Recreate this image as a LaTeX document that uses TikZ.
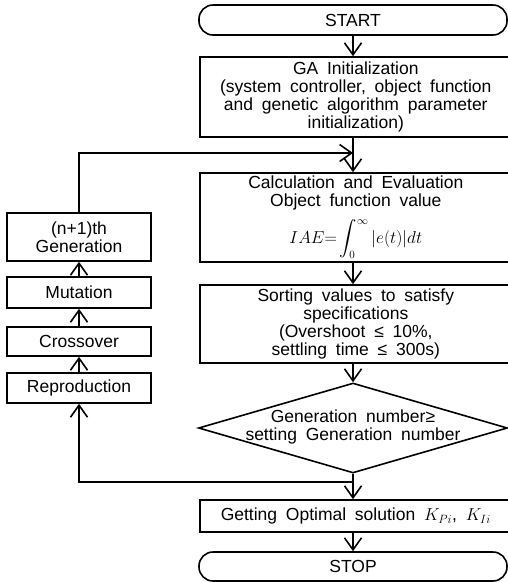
\documentclass[tikz,border=0pt]{standalone}
\usepackage{exscale}
\usepackage{fontspec}
\setmainfont{Liberation Sans}[WordSpace=1.8]
\usetikzlibrary{arrows.meta,positioning,calc,shapes.geometric}
\tikzset{
  flow box/.style={
    draw,
    line width=1.6pt,
    minimum width=312pt,
    inner sep=0pt,
    align=center,
    anchor=west,
  },
  term box/.style={
    draw,
    line width=1.6pt,
    rounded corners=14pt,
    minimum width=308pt,
    inner sep=0pt,
  },
  side box/.style={
    draw,
    line width=1.6pt,
    minimum width=144pt,
    inner sep=0pt,
    align=center,
  },
  flow arrow/.style={
    -{Straight Barb[length=12pt,width=17pt]},
    line width=1.6pt,
  },
}

\begin{document}
\begin{tikzpicture}[x=1pt,y=-1pt,font=\fontsize{17.5}{18}\selectfont]
  \useasboundingbox (0,0) rectangle (508,582);

  \node[term box, minimum height=30pt] (start) at (353,20) {START};
  \node[flow box, minimum height=80pt] (init) at (199,97)
    {GA Initialization\\(system controller, object function\\and genetic algorithm parameter\\initialization)};
  \node[flow box, minimum height=89pt] (calc) at (199,217.5)
    {Calculation and Evaluation\\Object function value\\[8pt]{\fontsize{16}{18}\selectfont$\displaystyle IAE{=}\int_0^{\infty}|e(t)|dt$}};
  \node[flow box, minimum height=78pt] (sort) at (199,324)
    {Sorting values to satisfy\\specifications\\(Overshoot ≤ 10\%,\\settling time ≤ 300s)};
  \node[draw, diamond, line width=1.6pt, minimum width=309pt, minimum height=90pt, inner sep=0pt] (check) at (353,428) {};
  \node[align=center] (checktext) at (353,427) {Generation number≥\\setting Generation number};
  \node[flow box, minimum height=32pt] (optimal) at (199,516)
    {Getting Optimal solution $K_{Pi}$,\ $K_{Ii}$};
  \node[term box, minimum height=29pt] (stop) at (353,566.5) {STOP};

  \node[side box, minimum height=48pt] (nextgen) at (79,237) {(n+1)th\\Generation};
  \node[side box, minimum height=31pt] (mutation) at (79,292.5) {Mutation};
  \node[side box, minimum height=29pt] (crossover) at (79,341.5) {Crossover};
  \node[side box, minimum height=30pt] (reproduction) at (79,388) {Reproduction};

  \coordinate (joint) at (353,153);
  \coordinate (back) at (353,482);

  \draw[flow arrow] (start.south) -- (start.south |- init.north);
  \draw[flow arrow] (start.south |- init.south) -- (start.south |- calc.north);
  \draw[flow arrow] (start.south |- calc.south) -- (start.south |- sort.north);
  \draw[flow arrow] (start.south |- sort.south) -- (check.north);
  \draw[flow arrow] (check.south) -- (check.south |- optimal.north);
  \draw[flow arrow] (check.south |- optimal.south) -- (stop.north);

  % loop back through the genetic operators
  \draw[flow arrow] (back) -| (reproduction.south);
  \draw[flow arrow] (reproduction) -- (crossover);
  \draw[flow arrow] (crossover) -- (mutation);
  \draw[flow arrow] (mutation) -- (nextgen);
  \draw[flow arrow] (nextgen.north) |- (joint);
\end{tikzpicture}
\end{document}
